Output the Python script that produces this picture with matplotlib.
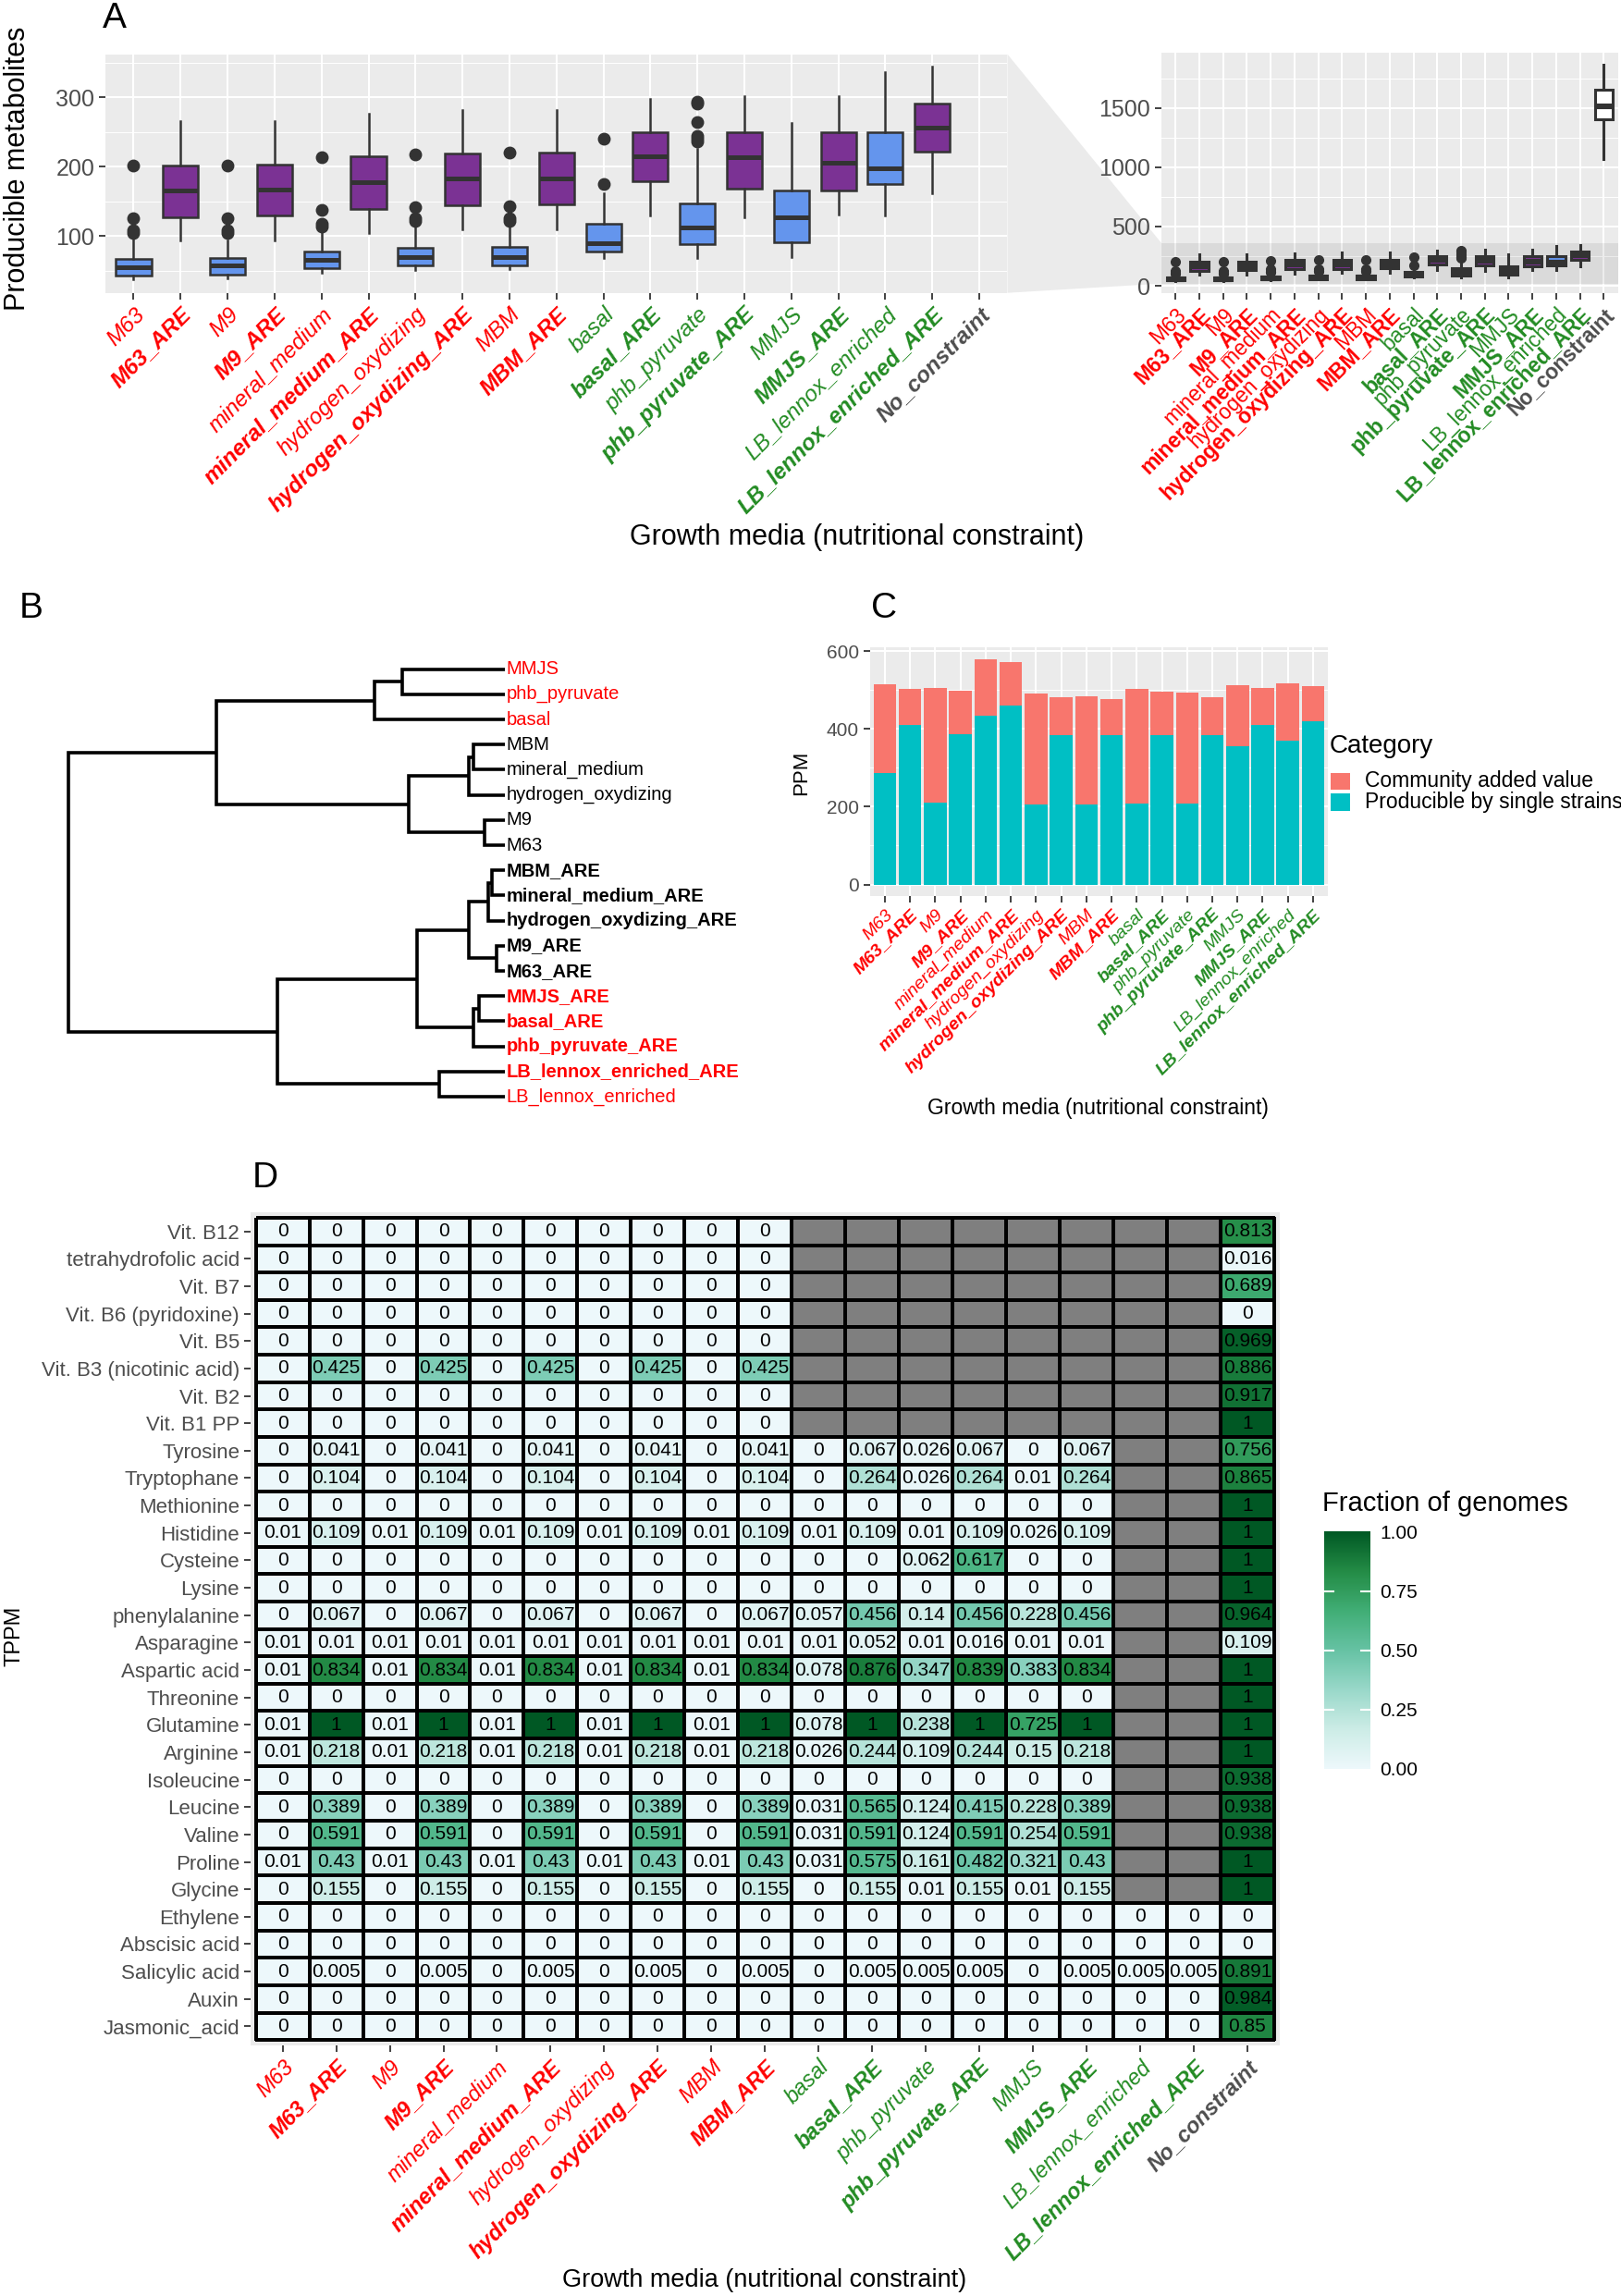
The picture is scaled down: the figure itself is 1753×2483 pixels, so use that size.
import numpy as np
import matplotlib
matplotlib.use('Agg')
import matplotlib.pyplot as plt
from matplotlib.patches import Polygon, Rectangle
from matplotlib.transforms import blended_transform_factory
from matplotlib.cm import ScalarMappable
from matplotlib.colors import Normalize, LinearSegmentedColormap

plt.rcParams['font.family'] = ['Liberation Sans', 'DejaVu Sans']

# ---------------- data ----------------
media = ['M63', 'M63_ARE', 'M9', 'M9_ARE', 'mineral_medium', 'mineral_medium_ARE',
         'hydrogen_oxydizing', 'hydrogen_oxydizing_ARE', 'MBM', 'MBM_ARE',
         'basal', 'basal_ARE', 'phb_pyruvate', 'phb_pyruvate_ARE', 'MMJS', 'MMJS_ARE',
         'LB_lennox_enriched', 'LB_lennox_enriched_ARE', 'No_constraint']
red_media = ['M63', 'M63_ARE', 'M9', 'M9_ARE', 'mineral_medium', 'mineral_medium_ARE',
             'hydrogen_oxydizing', 'hydrogen_oxydizing_ARE', 'MBM', 'MBM_ARE']

# panel A boxplot statistics (producible metabolites)
box_whislo = [38, 93, 39, 94, 47, 104, 51, 110, 52, 110, 68, 130, 68, 127, 70, 131, 129, 161, 1070]
box_q1 = [43, 127, 44, 129, 53, 139, 57, 144, 58, 145, 78, 179, 88, 168, 91, 166, 175, 221, 1400]
box_med = [55, 166, 57, 167, 65, 178, 69, 183, 70, 183, 90, 215, 112, 213, 127, 205, 198, 256, 1515]
box_q3 = [67, 202, 68, 203, 78, 215, 83, 219, 84, 220, 117, 249, 147, 249, 166, 249, 249, 291, 1650]
box_whishi = [95, 265, 94, 265, 107, 276, 112, 281, 112, 282, 162, 298, 225, 302, 263, 302, 336, 344, 1860]
box_fliers = [[104, 108, 126, 202], [], [104, 108, 126, 202], [], [114, 118, 137, 213], [],
              [121, 125, 142, 218], [], [121, 125, 143, 220], [], [175, 240], [],
              [236, 240, 244, 264, 291, 294], [], [], [], [], [], []]
box_fill = ['#6495ED', '#7B3294', '#6495ED', '#7B3294', '#6495ED', '#7B3294', '#6495ED', '#7B3294',
            '#6495ED', '#7B3294', '#6495ED', '#7B3294', '#6495ED', '#7B3294', '#6495ED', '#7B3294',
            '#6495ED', '#7B3294', 'white']

# panel B dendrogram
leaf_names = ['MMJS', 'phb_pyruvate', 'basal', 'MBM', 'mineral_medium', 'hydrogen_oxydizing', 'M9', 'M63',
              'MBM_ARE', 'mineral_medium_ARE', 'hydrogen_oxydizing_ARE', 'M9_ARE', 'M63_ARE',
              'MMJS_ARE', 'basal_ARE', 'phb_pyruvate_ARE', 'LB_lennox_enriched_ARE', 'LB_lennox_enriched']
leaf_red = ['MMJS', 'phb_pyruvate', 'basal', 'MMJS_ARE', 'basal_ARE', 'phb_pyruvate_ARE',
            'LB_lennox_enriched_ARE', 'LB_lennox_enriched']
merge_a = [0, 18, 3, 20, 6, 21, 19, 8, 25, 11, 26, 13, 29, 28, 16, 31, 24]
merge_b = [1, 2, 4, 5, 7, 22, 23, 9, 10, 12, 27, 14, 15, 30, 17, 32, 33]
merge_h = [2.07, 2.62, 0.64, 0.72, 0.42, 1.94, 5.79, 0.27, 0.34, 0.17, 0.72, 0.52, 0.64, 1.76, 1.32, 4.57, 8.74]

# panel C stacked bars (PPM)
c_media = media[:18]
c_single = [287, 410, 210, 386, 433, 460, 206, 383, 206, 383, 208, 384, 209, 385, 356, 410, 370, 419]
c_added = [227, 94, 296, 112, 145, 112, 284, 98, 279, 93, 296, 111, 284, 97, 157, 96, 148, 92]
c_categories = ['Community added value', 'Producible by single strains']
c_colors = ['#F8766D', '#00BFC4']

# panel D heatmap (fraction of genomes), NaN = not available
N = np.nan
metabolites = ['Vit. B12', 'tetrahydrofolic acid', 'Vit. B7', 'Vit. B6 (pyridoxine)', 'Vit. B5',
               'Vit. B3 (nicotinic acid)', 'Vit. B2', 'Vit. B1 PP', 'Tyrosine', 'Tryptophane',
               'Methionine', 'Histidine', 'Cysteine', 'Lysine', 'phenylalanine', 'Asparagine',
               'Aspartic acid', 'Threonine', 'Glutamine', 'Arginine', 'Isoleucine', 'Leucine',
               'Valine', 'Proline', 'Glycine', 'Ethylene', 'Abscisic acid', 'Salicylic acid',
               'Auxin', 'Jasmonic_acid']
fraction = np.array([
    [0, 0, 0, 0, 0, 0, 0, 0, 0, 0, N, N, N, N, N, N, N, N, 0.813],
    [0, 0, 0, 0, 0, 0, 0, 0, 0, 0, N, N, N, N, N, N, N, N, 0.016],
    [0, 0, 0, 0, 0, 0, 0, 0, 0, 0, N, N, N, N, N, N, N, N, 0.689],
    [0, 0, 0, 0, 0, 0, 0, 0, 0, 0, N, N, N, N, N, N, N, N, 0],
    [0, 0, 0, 0, 0, 0, 0, 0, 0, 0, N, N, N, N, N, N, N, N, 0.969],
    [0, 0.425, 0, 0.425, 0, 0.425, 0, 0.425, 0, 0.425, N, N, N, N, N, N, N, N, 0.886],
    [0, 0, 0, 0, 0, 0, 0, 0, 0, 0, N, N, N, N, N, N, N, N, 0.917],
    [0, 0, 0, 0, 0, 0, 0, 0, 0, 0, N, N, N, N, N, N, N, N, 1],
    [0, 0.041, 0, 0.041, 0, 0.041, 0, 0.041, 0, 0.041, 0, 0.067, 0.026, 0.067, 0, 0.067, N, N, 0.756],
    [0, 0.104, 0, 0.104, 0, 0.104, 0, 0.104, 0, 0.104, 0, 0.264, 0.026, 0.264, 0.01, 0.264, N, N, 0.865],
    [0, 0, 0, 0, 0, 0, 0, 0, 0, 0, 0, 0, 0, 0, 0, 0, N, N, 1],
    [0.01, 0.109, 0.01, 0.109, 0.01, 0.109, 0.01, 0.109, 0.01, 0.109, 0.01, 0.109, 0.01, 0.109, 0.026, 0.109, N, N, 1],
    [0, 0, 0, 0, 0, 0, 0, 0, 0, 0, 0, 0, 0.062, 0.617, 0, 0, N, N, 1],
    [0, 0, 0, 0, 0, 0, 0, 0, 0, 0, 0, 0, 0, 0, 0, 0, N, N, 1],
    [0, 0.067, 0, 0.067, 0, 0.067, 0, 0.067, 0, 0.067, 0.057, 0.456, 0.14, 0.456, 0.228, 0.456, N, N, 0.964],
    [0.01, 0.01, 0.01, 0.01, 0.01, 0.01, 0.01, 0.01, 0.01, 0.01, 0.01, 0.052, 0.01, 0.016, 0.01, 0.01, N, N, 0.109],
    [0.01, 0.834, 0.01, 0.834, 0.01, 0.834, 0.01, 0.834, 0.01, 0.834, 0.078, 0.876, 0.347, 0.839, 0.383, 0.834, N, N, 1],
    [0, 0, 0, 0, 0, 0, 0, 0, 0, 0, 0, 0, 0, 0, 0, 0, N, N, 1],
    [0.01, 1, 0.01, 1, 0.01, 1, 0.01, 1, 0.01, 1, 0.078, 1, 0.238, 1, 0.725, 1, N, N, 1],
    [0.01, 0.218, 0.01, 0.218, 0.01, 0.218, 0.01, 0.218, 0.01, 0.218, 0.026, 0.244, 0.109, 0.244, 0.15, 0.218, N, N, 1],
    [0, 0, 0, 0, 0, 0, 0, 0, 0, 0, 0, 0, 0, 0, 0, 0, N, N, 0.938],
    [0, 0.389, 0, 0.389, 0, 0.389, 0, 0.389, 0, 0.389, 0.031, 0.565, 0.124, 0.415, 0.228, 0.389, N, N, 0.938],
    [0, 0.591, 0, 0.591, 0, 0.591, 0, 0.591, 0, 0.591, 0.031, 0.591, 0.124, 0.591, 0.254, 0.591, N, N, 0.938],
    [0.01, 0.43, 0.01, 0.43, 0.01, 0.43, 0.01, 0.43, 0.01, 0.43, 0.031, 0.575, 0.161, 0.482, 0.321, 0.43, N, N, 1],
    [0, 0.155, 0, 0.155, 0, 0.155, 0, 0.155, 0, 0.155, 0, 0.155, 0.01, 0.155, 0.01, 0.155, N, N, 1],
    [0, 0, 0, 0, 0, 0, 0, 0, 0, 0, 0, 0, 0, 0, 0, 0, 0, 0, 0],
    [0, 0, 0, 0, 0, 0, 0, 0, 0, 0, 0, 0, 0, 0, 0, 0, 0, 0, 0],
    [0, 0.005, 0, 0.005, 0, 0.005, 0, 0.005, 0, 0.005, 0, 0.005, 0.005, 0.005, 0, 0.005, 0.005, 0.005, 0.891],
    [0, 0, 0, 0, 0, 0, 0, 0, 0, 0, 0, 0, 0, 0, 0, 0, 0, 0, 0.984],
    [0, 0, 0, 0, 0, 0, 0, 0, 0, 0, 0, 0, 0, 0, 0, 0, 0, 0, 0.85],
])

# ---------------- helpers ----------------
RW, RH = 1107, 1568   # layout measured on a 1107x1568 copy


def rect(x0, y0, x1, y1):
    return [x0 / RW, 1 - y1 / RH, (x1 - x0) / RW, (y1 - y0) / RH]


def fx(x):
    return x / RW


def fy(y):
    return 1 - y / RH


RED, GREEN, GREY = '#FF0000', '#228B22', '#4D4D4D'


def lab_color(m):
    if m == 'No_constraint':
        return GREY
    return RED if m in red_media else GREEN


def lab_weight(m):
    return 'bold' if (m.endswith('_ARE') or m == 'No_constraint') else 'normal'


def style_xlabels(ax, names, size, italic=True):
    ax.set_xticks(range(len(names)))
    ax.set_xticklabels(names, rotation=45, ha='right', rotation_mode='anchor', fontsize=size)
    for t, m in zip(ax.get_xticklabels(), names):
        t.set_color(lab_color(m))
        t.set_fontweight(lab_weight(m))
        if italic:
            t.set_fontstyle('italic')


def gg(ax, ysize):
    ax.set_facecolor('#EBEBEB')
    for s in ax.spines.values():
        s.set_visible(False)
    ax.set_axisbelow(True)
    ax.grid(True, which='major', color='white', lw=1.5)
    ax.grid(True, which='minor', axis='y', color='white', lw=0.7)
    ax.tick_params(which='major', length=5, width=1.3, color='#333333', labelcolor=GREY)
    ax.tick_params(which='minor', length=0)
    ax.tick_params(axis='y', labelsize=ysize)


fig = plt.figure(figsize=(17.53, 24.83), dpi=100)

# ---------------- panel A ----------------
stats = []
for i in range(len(media)):
    stats.append(dict(whislo=box_whislo[i], q1=box_q1[i], med=box_med[i], q3=box_q3[i],
                      whishi=box_whishi[i], fliers=box_fliers[i]))


def draw_boxes(ax, lw, ms):
    bp = ax.bxp(stats, positions=np.arange(len(media)), widths=0.75, patch_artist=True,
                showcaps=False,
                boxprops=dict(edgecolor='#333333', linewidth=lw),
                whiskerprops=dict(color='#333333', linewidth=lw),
                medianprops=dict(color='#333333', linewidth=lw * 2),
                flierprops=dict(marker='o', markerfacecolor='#333333',
                                markeredgecolor='#333333', markersize=ms))
    for p, c in zip(bp['boxes'], box_fill):
        p.set_facecolor(c)


zoom_lo, zoom_hi = 18, 362

axA = fig.add_axes(rect(72, 37, 688, 200))
gg(axA, 18)
draw_boxes(axA, 1.8, 9)
axA.set_xlim(-0.6, 18.6)
axA.set_ylim(zoom_lo, zoom_hi)
axA.set_yticks([100, 200, 300])
axA.set_yticks([50, 150, 250, 350], minor=True)
style_xlabels(axA, media, 17.5)

axR = fig.add_axes(rect(793, 36, 1105, 200))
gg(axR, 18)
axR.axhspan(zoom_lo, zoom_hi, color='black', alpha=0.07, lw=0, zorder=1)
draw_boxes(axR, 2.2, 7)
axR.set_xlim(-0.6, 18.6)
axR.set_ylim(-60, 1965)
axR.set_yticks([0, 500, 1000, 1500])
axR.set_yticks([250, 750, 1250, 1750], minor=True)
style_xlabels(axR, media, 16.5, italic=False)

# zoom connector between the two panels (drawn behind the axes)
inv = fig.transFigure.inverted()
bl = blended_transform_factory(axR.transAxes, axR.transData)
p_top = inv.transform(bl.transform((0, zoom_hi)))
p_bot = inv.transform(bl.transform((0, zoom_lo)))
ax_pos = axA.get_position()
trap = Polygon([(ax_pos.x1, ax_pos.y1), tuple(p_top), tuple(p_bot), (ax_pos.x1, ax_pos.y0)],
               closed=True, transform=fig.transFigure, facecolor='#EBEBEB', edgecolor='none', zorder=-1)
fig.patches.append(trap)

fig.text(fx(70), fy(1), 'A', fontsize=28, va='top', ha='left')
fig.text(fx(12), fy(115), 'Producible metabolites', rotation=90, fontsize=22, va='center', ha='center')
fig.text(fx(585), fy(367), 'Growth media (nutritional constraint)', fontsize=22, va='center', ha='center')

# ---------------- panel B ----------------
axB = fig.add_axes(rect(47, 448.4, 345, 757.6))
axB.axis('off')
axB.set_xlim(merge_h[-1], 0)
axB.set_ylim(len(leaf_names) - 0.5, -0.5)
pos_y = list(range(len(leaf_names)))
pos_h = [0.0] * len(leaf_names)
for a, b, h in zip(merge_a, merge_b, merge_h):
    axB.plot([pos_h[a], h, h, pos_h[b]], [pos_y[a], pos_y[a], pos_y[b], pos_y[b]],
             color='black', lw=2.6, solid_joinstyle='miter', solid_capstyle='butt', clip_on=False)
    pos_y.append((pos_y[a] + pos_y[b]) / 2)
    pos_h.append(h)
for i, name in enumerate(leaf_names):
    axB.annotate(name, (0, i), xytext=(1, 0), textcoords='offset points', va='center', ha='left',
                 fontsize=14.5, color=RED if name in leaf_red else 'black',
                 fontweight='bold' if name.endswith('_ARE') else 'normal')
fig.text(fx(13), fy(404), 'B', fontsize=28, va='top', ha='left')

# ---------------- panel C ----------------
axC = fig.add_axes(rect(594, 442, 907, 612))
gg(axC, 15)
xc = np.arange(len(c_media))
axC.bar(xc, c_single, width=0.9, color=c_colors[1], lw=0)
axC.bar(xc, c_added, width=0.9, bottom=c_single, color=c_colors[0], lw=0)
axC.set_xlim(-0.6, len(c_media) - 0.4)
axC.set_ylim(-30, 610)
axC.set_yticks([0, 200, 400, 600])
axC.set_yticks([100, 300, 500], minor=True)
style_xlabels(axC, c_media, 14)
fig.text(fx(595), fy(404), 'C', fontsize=28, va='top', ha='left')
fig.text(fx(547), fy(528), 'PPM', rotation=90, fontsize=16, va='center', ha='center')
fig.text(fx(750), fy(757), 'Growth media (nutritional constraint)', fontsize=16.5, va='center', ha='center')

# legend (ggplot style: title, stacked square keys)
fig.text(fx(908), fy(509.5), 'Category', fontsize=20, va='center', ha='left')
key_top = [527.7, 542.0]
for k, (lab, col) in enumerate(zip(c_categories, c_colors)):
    fig.patches.append(Rectangle((fx(909), fy(key_top[k] + 11.6)), 13 / RW, 11.6 / RH,
                                 transform=fig.transFigure, facecolor=col, edgecolor='none'))
    fig.text(fx(932), fy(key_top[k] + 5.8), lab, fontsize=16.5, va='center', ha='left')

# ---------------- panel D ----------------
nr, nc = fraction.shape
cell_w, cell_h = 36.6, 18.72
x0d, y0d = 174.7, 831.6
axD = fig.add_axes(rect(x0d - 0.1 * cell_w, y0d - 0.19 * cell_h,
                        x0d + (nc + 0.1) * cell_w, y0d + (nr + 0.19) * cell_h))
axD.set_facecolor('#EBEBEB')
for s in axD.spines.values():
    s.set_visible(False)
cmap = LinearSegmentedColormap.from_list(
    'bugn7', ['#EDF8FB', '#CCECE6', '#99D8C9', '#66C2A4', '#41AE76', '#238B45', '#005824'])
cmap.set_bad('#7F7F7F')
axD.pcolormesh(np.arange(nc + 1) - 0.5, np.arange(nr + 1) - 0.5, np.ma.masked_invalid(fraction),
               cmap=cmap, vmin=0, vmax=1, edgecolors='black', linewidth=1.6)
for i in range(nr):
    for j in range(nc):
        v = fraction[i, j]
        if not np.isnan(v):
            axD.text(j, i, f'{v:g}', ha='center', va='center', fontsize=15, color='black')
axD.set_xlim(-0.6, nc - 0.4)
axD.set_ylim(nr - 0.31, -0.69)
axD.set_yticks(range(nr))
axD.set_yticklabels(metabolites, fontsize=16)
axD.tick_params(length=5, width=1.3, color='#333333', labelcolor=GREY)
style_xlabels(axD, media, 17)
fig.text(fx(172), fy(793), 'D', fontsize=28, va='top', ha='left')
fig.text(fx(10), fy(1117), 'TPPM', rotation=90, fontsize=17, va='center', ha='center')
fig.text(fx(522), fy(1557), 'Growth media (nutritional constraint)', fontsize=19.5, va='center', ha='center')

cax = fig.add_axes(rect(904, 1046, 936, 1208))
cb = fig.colorbar(ScalarMappable(norm=Normalize(0, 1), cmap=cmap), cax=cax)
cb.outline.set_visible(False)
cb.set_ticks([0, 0.25, 0.5, 0.75, 1])
cb.set_ticklabels(['0.00', '0.25', '0.50', '0.75', '1.00'])
cax.tick_params(length=0, labelsize=15, pad=7)
for t in [0.25, 0.5, 0.75]:
    cax.axhline(t, xmin=0, xmax=0.2, color='white', lw=1.5)
    cax.axhline(t, xmin=0.8, xmax=1, color='white', lw=1.5)
fig.text(fx(903), fy(1027), 'Fraction of genomes', fontsize=21, va='center', ha='left')

fig.savefig('out.png', dpi=100)
